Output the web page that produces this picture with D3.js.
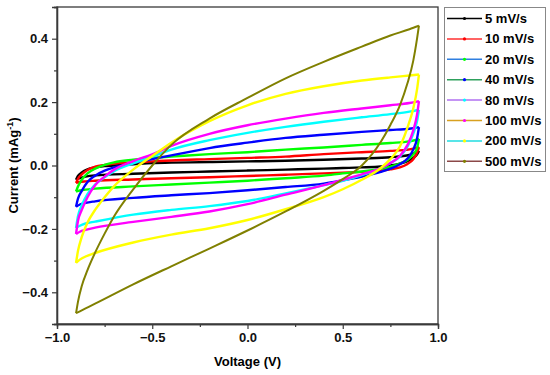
<!DOCTYPE html>
<html>
<head>
<meta charset="utf-8">
<script src="https://cdn.jsdelivr.net/npm/d3@7"></script>
<style>
	body { margin: 0; background: #fff; }
	svg { display: block; font-family: Arial, "Liberation Sans", sans-serif; font-weight: bold; }
</style>
</head>
<body>
<svg id="chart" width="550" height="375"></svg>
<script>
// scan rates, as shown in the legend
var rates = [ '5 mV/s', '10 mV/s', '20 mV/s', '40 mV/s', '80 mV/s', '100 mV/s', '200 mV/s', '500 mV/s' ];

// voltage grid of the forward (upper) and reverse (lower) branches
var vUpper = [ -0.9, -0.89, -0.87, -0.84, -0.8, -0.75, -0.7, -0.6, -0.5, -0.4, -0.2, 0, 0.2, 0.4, 0.6, 0.75, 0.85, 0.9 ];
var vLower = [ -0.9, -0.88, -0.85, -0.8, -0.6, -0.4, -0.2, 0, 0.2, 0.4, 0.5, 0.6, 0.7, 0.75, 0.8, 0.84, 0.87, 0.89, 0.9 ];

// current, one row per scan rate
var iUpper = [
	[ -0.045, -0.033, -0.022, -0.012, -0.006, -0.002, 0.0, 0.004, 0.008, 0.009, 0.011, 0.013, 0.015, 0.018, 0.022, 0.026, 0.033, 0.046 ],
	[ -0.055, -0.042, -0.028, -0.014, -0.004, 0.002, 0.006, 0.010, 0.013, 0.016, 0.020, 0.024, 0.028, 0.036, 0.042, 0.046, 0.051, 0.058 ],
	[ -0.082, -0.066, -0.045, -0.025, -0.010, 0.002, 0.010, 0.018, 0.024, 0.028, 0.036, 0.042, 0.050, 0.057, 0.065, 0.071, 0.076, 0.084 ],
	[ -0.130, -0.105, -0.080, -0.052, -0.032, -0.016, -0.006, 0.008, 0.020, 0.032, 0.055, 0.072, 0.087, 0.097, 0.106, 0.112, 0.116, 0.121 ],
	[ -0.197, -0.160, -0.125, -0.090, -0.060, -0.037, -0.018, 0.007, 0.028, 0.050, 0.080, 0.103, 0.122, 0.138, 0.152, 0.162, 0.170, 0.176 ],
	[ -0.216, -0.175, -0.140, -0.100, -0.062, -0.035, -0.013, 0.014, 0.035, 0.062, 0.100, 0.127, 0.148, 0.166, 0.180, 0.190, 0.197, 0.203 ],
	[ -0.307, -0.270, -0.225, -0.180, -0.140, -0.100, -0.065, -0.013, 0.030, 0.072, 0.140, 0.190, 0.226, 0.250, 0.268, 0.278, 0.284, 0.287 ],
	[ -0.466, -0.430, -0.380, -0.330, -0.275, -0.215, -0.160, -0.075, 0.000, 0.065, 0.148, 0.213, 0.275, 0.327, 0.375, 0.410, 0.430, 0.441 ]
];
var iLower = [
	[ -0.045, -0.040, -0.035, -0.031, -0.026, -0.022, -0.019, -0.016, -0.013, -0.010, -0.008, -0.006, -0.003, 0.000, 0.006, 0.014, 0.024, 0.035, 0.046 ],
	[ -0.055, -0.052, -0.050, -0.048, -0.044, -0.040, -0.037, -0.033, -0.029, -0.025, -0.023, -0.020, -0.016, -0.012, -0.006, 0.005, 0.020, 0.040, 0.058 ],
	[ -0.082, -0.079, -0.076, -0.073, -0.066, -0.060, -0.054, -0.048, -0.040, -0.032, -0.025, -0.019, -0.010, -0.004, 0.006, 0.018, 0.035, 0.055, 0.084 ],
	[ -0.130, -0.123, -0.118, -0.113, -0.102, -0.094, -0.087, -0.078, -0.068, -0.057, -0.047, -0.035, -0.020, -0.010, 0.004, 0.022, 0.050, 0.085, 0.121 ],
	[ -0.197, -0.190, -0.183, -0.177, -0.155, -0.140, -0.128, -0.112, -0.088, -0.062, -0.048, -0.030, -0.008, 0.008, 0.028, 0.060, 0.100, 0.140, 0.176 ],
	[ -0.216, -0.209, -0.203, -0.196, -0.178, -0.162, -0.145, -0.122, -0.092, -0.062, -0.045, -0.028, -0.008, 0.008, 0.030, 0.065, 0.110, 0.160, 0.203 ],
	[ -0.307, -0.297, -0.287, -0.276, -0.243, -0.218, -0.198, -0.172, -0.138, -0.100, -0.075, -0.045, -0.008, 0.020, 0.060, 0.120, 0.180, 0.240, 0.287 ],
	[ -0.466, -0.460, -0.451, -0.436, -0.375, -0.318, -0.262, -0.205, -0.145, -0.080, -0.043, 0.000, 0.075, 0.128, 0.190, 0.260, 0.330, 0.400, 0.441 ]
];

// colours of the curves, and of the legend line and its marker
var curveColors = [ '#000000', '#ff0000', '#00ff00', '#0000ff', '#00ffff', '#ff00ff', '#ffff00', '#808000' ];
var legendLineColors = [ '#000000', '#ff3030', '#2f7fe0', '#2ea05c', '#b070f0', '#d8a020', '#20dde0', '#8b4848' ];

var xTicks = [ -1.0, -0.5, 0.0, 0.5, 1.0 ];
var xMinor = [ -0.75, -0.25, 0.25, 0.75 ];
var yTicks = [ -0.4, -0.2, 0.0, 0.2, 0.4 ];
var yMinor = [ -0.5, -0.3, -0.1, 0.1, 0.3, 0.5 ];

( function () {
	var svg = d3.select( '#chart' );
	var mLeft = 57, mRight = 438, mTop = 7, mBottom = 324;

	var x = d3.scaleLinear().domain( [ -1, 1 ] ).range( [ mLeft, mRight ] );
	var y = d3.scaleLinear().domain( [ -0.5, 0.5 ] ).range( [ mBottom, mTop ] );

	var line = d3.line()
		.x( function ( d ) { return x( d[0] ); } )
		.y( function ( d ) { return y( d[1] ); } )
		.curve( d3.curveMonotoneX );

	var plot = svg.append( 'g' );
	rates.forEach( function ( r, i ) {
		var up = vUpper.map( function ( v, j ) { return [ v, iUpper[i][j] ]; } );
		var lo = vLower.map( function ( v, j ) { return [ v, iLower[i][j] ]; } );
		[ up, lo ].forEach( function ( branch ) {
			plot.append( 'path' )
				.attr( 'd', line( branch ) )
				.attr( 'fill', 'none' )
				.attr( 'stroke', curveColors[i] )
				.attr( 'stroke-width', i === 7 ? 2 : 2.4 )
				.attr( 'stroke-linejoin', 'round' );
		} );
	} );

	// frame
	svg.append( 'rect' )
		.attr( 'x', mLeft ).attr( 'y', mTop )
		.attr( 'width', mRight - mLeft ).attr( 'height', mBottom - mTop )
		.attr( 'fill', 'none' )
		.attr( 'stroke', '#3a3a3a' )
		.attr( 'stroke-width', 1.3 );

	svg.append( 'g' )
		.attr( 'transform', 'translate(0,' + mBottom + ')' )
		.call( d3.axisBottom( x ).tickValues( xTicks ).tickFormat( d3.format( '.1f' ) ).tickSize( 5 ).tickPadding( 4 ) );
	svg.append( 'g' )
		.attr( 'transform', 'translate(0,' + mBottom + ')' )
		.call( d3.axisBottom( x ).tickValues( xMinor ).tickFormat( '' ).tickSize( 3 ) );

	svg.append( 'g' )
		.attr( 'transform', 'translate(' + mLeft + ',0)' )
		.call( d3.axisLeft( y ).tickValues( yTicks ).tickFormat( d3.format( '.1f' ) ).tickSize( 5 ).tickPadding( 4 ) );
	svg.append( 'g' )
		.attr( 'transform', 'translate(' + mLeft + ',0)' )
		.call( d3.axisLeft( y ).tickValues( yMinor ).tickFormat( '' ).tickSize( 3 ) );

	svg.selectAll( '.domain' ).attr( 'stroke', '#3a3a3a' ).attr( 'stroke-width', 1.3 );
	svg.selectAll( '.tick line' ).attr( 'stroke', '#3a3a3a' ).attr( 'stroke-width', 1.2 );
	svg.selectAll( '.tick text' )
		.attr( 'fill', '#111' )
		.style( 'font-family', 'Arial, "Liberation Sans", sans-serif' )
		.style( 'font-weight', 'bold' )
		.style( 'font-size', '13px' );

	svg.append( 'text' )
		.attr( 'x', ( mLeft + mRight ) / 2 )
		.attr( 'y', 366 )
		.attr( 'text-anchor', 'middle' )
		.style( 'font-size', '13px' )
		.text( 'Voltage (V)' );

	var yt = svg.append( 'text' )
		.attr( 'transform', 'translate(18,' + ( ( mTop + mBottom ) / 2 ) + ') rotate(-90)' )
		.attr( 'text-anchor', 'middle' )
		.style( 'font-size', '13px' );
	yt.append( 'tspan' ).text( 'Current (mAg' );
	yt.append( 'tspan' ).attr( 'dy', -5 ).style( 'font-size', '9px' ).text( '-1' );
	yt.append( 'tspan' ).attr( 'dy', 5 ).text( ')' );

	// legend
	var lg = svg.append( 'g' );
	lg.append( 'rect' )
		.attr( 'x', 444.5 ).attr( 'y', 7.5 )
		.attr( 'width', 101 ).attr( 'height', 164 )
		.attr( 'fill', '#fff' )
		.attr( 'stroke', '#888' )
		.attr( 'stroke-width', 1 );

	var row = lg.selectAll( 'g.row' )
		.data( rates )
		.enter()
		.append( 'g' )
		.classed( 'row', true )
		.attr( 'transform', function ( d, i ) { return 'translate(0,' + ( 18.5 + i * 20.4 ) + ')'; } );

	row.append( 'line' )
		.attr( 'x1', 447 ).attr( 'x2', 482 )
		.attr( 'stroke', function ( d, i ) { return legendLineColors[i]; } )
		.attr( 'stroke-width', 1.5 );
	row.append( 'circle' )
		.attr( 'cx', 464.5 ).attr( 'r', 1.6 )
		.attr( 'fill', function ( d, i ) { return curveColors[i]; } );
	row.append( 'text' )
		.attr( 'x', 485 )
		.attr( 'dy', '0.35em' )
		.style( 'font-size', '13px' )
		.text( function ( d ) { return d; } );
} )();
</script>
</body>
</html>
